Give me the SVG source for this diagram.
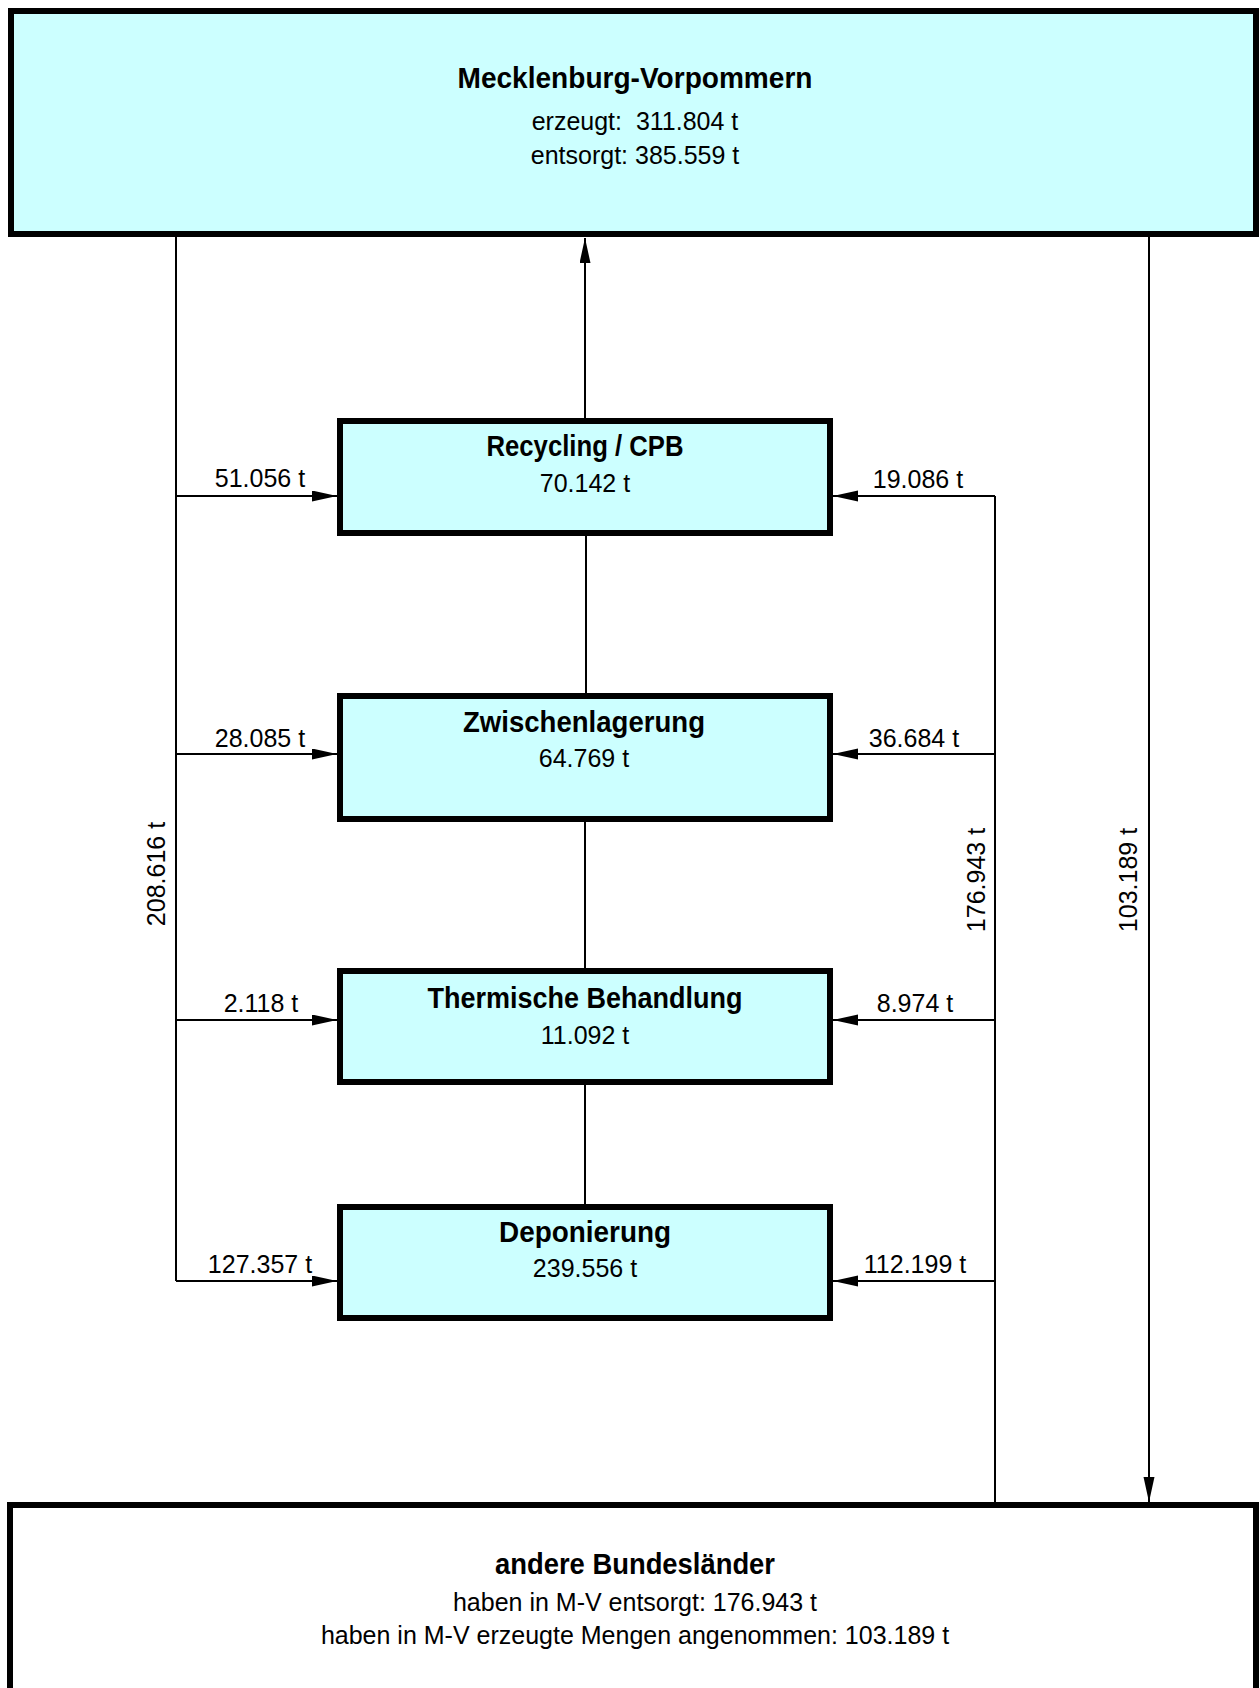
<svg xmlns="http://www.w3.org/2000/svg" width="1260" height="1688" viewBox="0 0 1260 1688">
<style>
.box{fill:#ccffff;stroke:#000;stroke-width:6}
.wbox{fill:#fff;stroke:#000;stroke-width:6}
.ttl{font-family:"Liberation Sans",Arial,sans-serif;font-weight:bold;font-size:29px;text-anchor:middle;fill:#000}
.txt{font-family:"Liberation Sans",Arial,sans-serif;font-size:25px;text-anchor:middle;fill:#000}
.ln{fill:none;stroke:#000;stroke-width:2}
</style>
<defs>
<marker id="ah" markerUnits="userSpaceOnUse" markerWidth="26" markerHeight="12" refX="25" refY="5.5" orient="auto">
<path d="M0,0 L25,5.5 L0,11 Z" fill="#000"/>
</marker>
</defs>
<rect width="1260" height="1688" fill="#fff"/>
<g id="connectors">
<path class="ln" d="M585 418 V238" marker-end="url(#ah)"/>
<path class="ln" d="M176 236 V1281"/>
<path class="ln" d="M176 496 H337" marker-end="url(#ah)"/>
<path class="ln" d="M176 754 H337" marker-end="url(#ah)"/>
<path class="ln" d="M176 1020 H337" marker-end="url(#ah)"/>
<path class="ln" d="M176 1281 H337" marker-end="url(#ah)"/>
<path class="ln" d="M995 1502 V496"/>
<path class="ln" d="M995 496 H833" marker-end="url(#ah)"/>
<path class="ln" d="M995 754 H833" marker-end="url(#ah)"/>
<path class="ln" d="M995 1020 H833" marker-end="url(#ah)"/>
<path class="ln" d="M995 1281 H833" marker-end="url(#ah)"/>
<path class="ln" d="M1149 236 V1502" marker-end="url(#ah)"/>
<path class="ln" d="M586 536 V693"/>
<path class="ln" d="M585 822 V968"/>
<path class="ln" d="M585 1085 V1204"/>
<text class="txt" x="260" y="487">51.056 t</text>
<text class="txt" x="260" y="747">28.085 t</text>
<text class="txt" x="261" y="1012">2.118 t</text>
<text class="txt" x="260" y="1273">127.357 t</text>
<text class="txt" x="918" y="488">19.086 t</text>
<text class="txt" x="914" y="747">36.684 t</text>
<text class="txt" x="915" y="1012">8.974 t</text>
<text class="txt" x="915" y="1273">112.199 t</text>
<text class="txt" transform="translate(165,874) rotate(-90)">208.616 t</text>
<text class="txt" transform="translate(985,880) rotate(-90)">176.943 t</text>
<text class="txt" transform="translate(1137,880) rotate(-90)">103.189 t</text>
</g>
<g id="mv">
<rect class="box" x="11" y="11" width="1245" height="223"/>
<text class="ttl" x="635" y="88" textLength="355" lengthAdjust="spacingAndGlyphs">Mecklenburg-Vorpommern</text>
<text class="txt" x="635" y="130">erzeugt:&#160; 311.804 t</text>
<text class="txt" x="635" y="164">entsorgt: 385.559 t</text>
</g>
<g id="recycling">
<rect class="box" x="340" y="421" width="490" height="112"/>
<text class="ttl" x="585" y="456" textLength="197" lengthAdjust="spacingAndGlyphs">Recycling / CPB</text>
<text class="txt" x="585" y="492">70.142 t</text>
</g>
<g id="zwischenlagerung">
<rect class="box" x="340" y="696" width="490" height="123"/>
<text class="ttl" x="584" y="732" textLength="242" lengthAdjust="spacingAndGlyphs">Zwischenlagerung</text>
<text class="txt" x="584" y="767">64.769 t</text>
</g>
<g id="thermische">
<rect class="box" x="340" y="971" width="490" height="111"/>
<text class="ttl" x="585" y="1008" textLength="315" lengthAdjust="spacingAndGlyphs">Thermische Behandlung</text>
<text class="txt" x="585" y="1044">11.092 t</text>
</g>
<g id="deponierung">
<rect class="box" x="340" y="1207" width="490" height="111"/>
<text class="ttl" x="585" y="1242" textLength="172" lengthAdjust="spacingAndGlyphs">Deponierung</text>
<text class="txt" x="585" y="1277">239.556 t</text>
</g>
<g id="bundeslaender">
<rect class="wbox" x="10" y="1505" width="1246" height="220"/>
<text class="ttl" x="635" y="1574" textLength="280" lengthAdjust="spacingAndGlyphs">andere Bundesländer</text>
<text class="txt" x="635" y="1611">haben in M-V entsorgt: 176.943 t</text>
<text class="txt" x="635" y="1644">haben in M-V erzeugte Mengen angenommen: 103.189 t</text>
</g>
</svg>
